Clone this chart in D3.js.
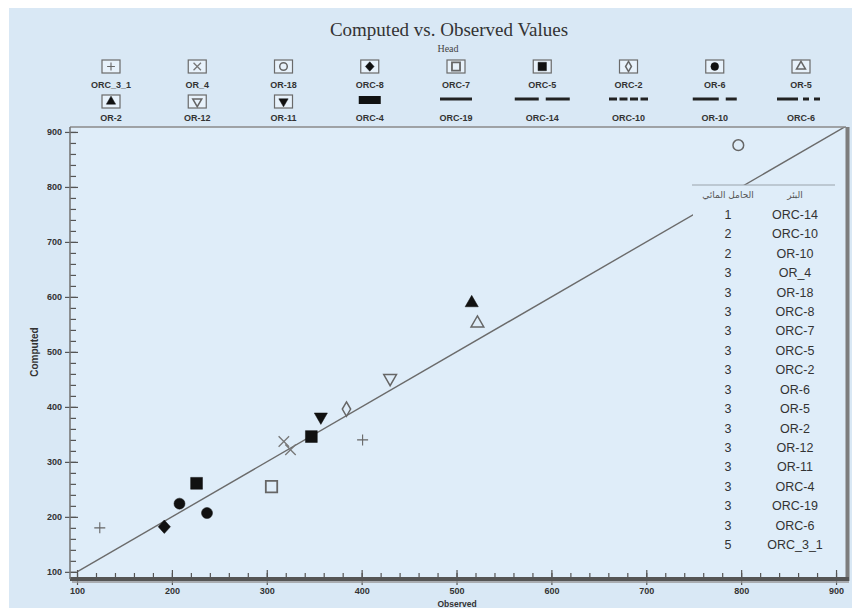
<!DOCTYPE html>
<html><head><meta charset="utf-8">
<script src="https://cdn.jsdelivr.net/npm/d3@7"></script>
<style>
html,body{margin:0;padding:0;background:#fff;}
svg{display:block;}
</style></head>
<body>
<svg id="chart" width="861" height="608"></svg>
<script>
// ---------- DATA ----------
const pointWells    = ["ORC_3_1","ORC_3_1","OR_4","OR_4","OR-18","ORC-8","ORC-7","ORC-5","ORC-5","ORC-2","OR-6","OR-6","OR-5","OR-2","OR-12","OR-11"];
const observedVals  = [124, 401, 318, 325, 797, 192, 305, 226, 347, 384, 208, 237, 522, 516, 430, 357];
const computedVals  = [180, 340, 337, 322, 876, 182, 255, 261, 346, 396, 224, 207, 552, 589, 452, 382];

const legendRow1 = ["ORC_3_1","OR_4","OR-18","ORC-8","ORC-7","ORC-5","ORC-2","OR-6","OR-5"];
const legendRow2 = ["OR-2","OR-12","OR-11","ORC-4","ORC-19","ORC-14","ORC-10","OR-10","ORC-6"];

const tableWells    = ["ORC-14","ORC-10","OR-10","OR_4","OR-18","ORC-8","ORC-7","ORC-5","ORC-2","OR-6","OR-5","OR-2","OR-12","OR-11","ORC-4","ORC-19","ORC-6","ORC_3_1"];
const tableAquifer  = [1,2,2,3,3,3,3,3,3,3,3,3,3,3,3,3,3,5];
const tableHeaders  = ["الحامل المائي","البئر"];

const majorTicks = [100,200,300,400,500,600,700,800,900];
const titleText = "Computed vs. Observed Values";
const subtitleText = "Head";
const xLabel = "Observed", yLabel = "Computed";

// ---------- STYLE MAPS ----------
const thinPlus = {draw(c, s){const r=Math.sqrt(s)/2; c.moveTo(-r,0);c.lineTo(r,0);c.moveTo(0,-r);c.lineTo(0,r);}};
const thinX = {draw(c, s){const r=Math.sqrt(s)/2; c.moveTo(-r,-r);c.lineTo(r,r);c.moveTo(-r,r);c.lineTo(r,-r);}};
const downTri = {draw(c, s){const a=Math.sqrt(s*4/Math.sqrt(3)), h=a*Math.sqrt(3)/2, w=a/2; c.moveTo(-w,-h/3);c.lineTo(w,-h/3);c.lineTo(0,2*h/3);c.closePath();}};
const wideDiamond = {draw(c, s){const r=Math.sqrt(s/2); c.moveTo(0,-r*1.1);c.lineTo(r,0);c.lineTo(0,r*1.1);c.lineTo(-r,0);c.closePath();}};

const symStyle = {
  "ORC_3_1": {type: thinPlus, size: 121, fill: "none", stroke: "#666", sw: 1.1},
  "OR_4":    {type: thinX, size: 110, fill: "none", stroke: "#777", sw: 1.3},
  "OR-18":   {type: d3.symbolCircle, size: 90, fill: "none", stroke: "#666", sw: 1.5},
  "ORC-8":   {type: wideDiamond, size: 75, fill: "#111", stroke: "#111", sw: 0.5},
  "ORC-7":   {type: d3.symbolSquare, size: 130, fill: "none", stroke: "#666", sw: 1.8},
  "ORC-5":   {type: d3.symbolSquare, size: 140, fill: "#111", stroke: "#111", sw: 0.5},
  "ORC-2":   {type: d3.symbolDiamond, size: 60, fill: "none", stroke: "#666", sw: 1.5},
  "OR-6":    {type: d3.symbolCircle, size: 95, fill: "#111", stroke: "#111", sw: 0.5},
  "OR-5":    {type: d3.symbolTriangle, size: 70, fill: "none", stroke: "#666", sw: 1.5},
  "OR-2":    {type: d3.symbolTriangle, size: 75, fill: "#111", stroke: "#111", sw: 0.5},
  "OR-12":   {type: downTri, size: 70, fill: "none", stroke: "#666", sw: 1.5},
  "OR-11":   {type: downTri, size: 75, fill: "#111", stroke: "#111", sw: 0.5}
};
const lineStyle = {
  "ORC-19": {w: 32, dash: null},
  "ORC-14": {w: 55, dash: "24,7"},
  "ORC-10": {w: 39, dash: "8,2.5"},
  "OR-10":  {w: 44, dash: "26,7,11"},
  "ORC-6":  {w: 48, dash: "21,5,6,5,6,5"}
};

// ---------- LAYOUT ----------
const svg = d3.select("#chart");
const P = {left: 70, right: 846, top: 127, bottom: 579};
const x = d3.scaleLinear().domain([92.6, 910.5]).range([P.left, P.right]);
const y = d3.scaleLinear().domain([87, 909]).range([P.bottom, P.top]);

// backgrounds
svg.append("rect").attr("x",9).attr("y",8).attr("width",843).attr("height",600).attr("fill","#d9e8f5");
svg.append("rect").attr("x",P.left).attr("y",P.top).attr("width",P.right-P.left).attr("height",P.bottom-P.top).attr("fill","#dfedf9");

// title
svg.append("text").attr("x",449).attr("y",36).attr("text-anchor","middle")
  .attr("font-family","'Liberation Serif','Times New Roman',serif").attr("font-size",19).attr("fill","#333").text(titleText);
svg.append("text").attr("x",448).attr("y",52).attr("text-anchor","middle")
  .attr("font-family","'Liberation Serif','Times New Roman',serif").attr("font-size",10).attr("fill","#444").text(subtitleText);

// legend
const legX = d3.scalePoint().domain(d3.range(9)).range([111, 801]);
function legendItem(name, i, row){
  const cx = legX(i);
  const boxY = row === 0 ? 60 : 95;
  const labY = row === 0 ? 88 : 121;
  const g = svg.append("g");
  if (symStyle[name]) {
    g.append("rect").attr("x",cx-9).attr("y",boxY).attr("width",18).attr("height",13)
      .attr("fill","#e8f2fb").attr("stroke","#6a6a6a").attr("stroke-width",1.2);
    const s = symStyle[name];
    g.append("path").attr("transform",`translate(${cx},${boxY+6.5})`)
      .attr("d", d3.symbol().type(s.type).size(s.size*0.5)())
      .attr("fill", s.fill).attr("stroke", s.stroke).attr("stroke-width", s.sw);
  } else if (lineStyle[name]) {
    const ls = lineStyle[name];
    g.append("line").attr("x1",cx-ls.w/2).attr("x2",cx+ls.w/2).attr("y1",99).attr("y2",99)
      .attr("stroke","#222").attr("stroke-width",3).attr("stroke-dasharray",ls.dash);
  } else {
    g.append("rect").attr("x",cx-11).attr("y",96).attr("width",22).attr("height",8).attr("fill","#111");
  }
  g.append("text").attr("x",cx).attr("y",labY).attr("text-anchor","middle")
    .attr("font-family","'Liberation Sans',Arial,sans-serif").attr("font-weight","bold").attr("font-size",9)
    .attr("fill","#333").text(name);
}
legendRow1.forEach((n,i)=>legendItem(n,i,0));
legendRow2.forEach((n,i)=>legendItem(n,i,1));

// clip
svg.append("defs").append("clipPath").attr("id","pc").append("rect")
  .attr("x",P.left).attr("y",P.top).attr("width",P.right-P.left).attr("height",P.bottom-P.top);

// 1:1 line
svg.append("line").attr("clip-path","url(#pc)")
  .attr("x1",x(100)).attr("y1",y(100)).attr("x2",x(912)).attr("y2",y(912))
  .attr("stroke","#6b6b6b").attr("stroke-width",1.4);

// table background (masks line)
svg.append("rect").attr("x",693).attr("y",185).attr("width",146).attr("height",370).attr("fill","#dfedf9");
svg.append("line").attr("x1",692).attr("x2",835).attr("y1",185).attr("y2",185).attr("stroke","#9aa3ab").attr("stroke-width",1);
svg.append("text").attr("x",728).attr("y",198).attr("text-anchor","middle").attr("direction","rtl")
  .attr("font-family","'DejaVu Sans','Noto Sans',sans-serif").attr("font-size",9).attr("fill","#555").text(tableHeaders[0]);
svg.append("text").attr("x",795).attr("y",198).attr("text-anchor","middle").attr("direction","rtl")
  .attr("font-family","'DejaVu Sans','Noto Sans',sans-serif").attr("font-size",9).attr("fill","#555").text(tableHeaders[1]);
const rowY = d3.scaleLinear().domain([0, tableWells.length-1]).range([219, 549]);
const tg = svg.append("g").attr("font-family","'Liberation Sans',Arial,sans-serif").attr("font-size",12.5).attr("fill","#333");
tg.selectAll("text.aq").data(tableAquifer).join("text").attr("class","aq")
  .attr("x",728).attr("y",(d,i)=>rowY(i)).attr("text-anchor","middle").text(d=>d);
tg.selectAll("text.wl").data(tableWells).join("text").attr("class","wl")
  .attr("x",795).attr("y",(d,i)=>rowY(i)).attr("text-anchor","middle").text(d=>d);

// points
const pts = svg.append("g").attr("clip-path","url(#pc)");
pts.selectAll("path").data(pointWells).join("path")
  .attr("transform",(d,i)=>`translate(${x(observedVals[i])},${y(computedVals[i])})`)
  .attr("d", d => d3.symbol().type(symStyle[d].type).size(symStyle[d].size)())
  .attr("fill", d => symStyle[d].fill).attr("stroke", d => symStyle[d].stroke)
  .attr("stroke-width", d => symStyle[d].sw);

// frame
svg.append("line").attr("x1",P.left).attr("x2",P.right).attr("y1",P.top).attr("y2",P.top).attr("stroke","#8a8a8a").attr("stroke-width",1.3);
svg.append("line").attr("x1",P.right+1.5).attr("x2",P.right+1.5).attr("y1",P.top).attr("y2",P.bottom+2).attr("stroke","#7d7d7d").attr("stroke-width",4);

// axes
const minorTicks = d3.range(100, 901, 20);
const fontAx = "'Liberation Sans',Arial,sans-serif";
function styleAxis(g){ g.selectAll("line").attr("stroke","#555").attr("stroke-width",1.2); g.select(".domain").remove(); }

const xIn = svg.append("g").attr("transform",`translate(0,${P.bottom})`)
  .call(d3.axisBottom(x).tickValues(minorTicks).tickSize(-6).tickFormat(""));
styleAxis(xIn);
const xMaj = svg.append("g").attr("transform",`translate(0,${P.bottom})`)
  .call(d3.axisBottom(x).tickValues(majorTicks).tickSize(6).tickPadding(3).tickFormat(d3.format("d")));
styleAxis(xMaj);
xMaj.selectAll("line").attr("y1",-9);
xMaj.selectAll("text").attr("font-family",fontAx).attr("font-weight","bold").attr("font-size",9).attr("fill","#333");
svg.append("line").attr("x1",P.left).attr("x2",P.right+3).attr("y1",P.bottom).attr("y2",P.bottom).attr("stroke","#555").attr("stroke-width",4);
svg.append("line").attr("x1",P.left+2).attr("x2",P.right+3).attr("y1",P.bottom+3).attr("y2",P.bottom+3).attr("stroke","#999").attr("stroke-width",1.5);

const yIn = svg.append("g").attr("transform",`translate(${P.left},0)`)
  .call(d3.axisLeft(y).tickValues(minorTicks).tickSize(-6).tickFormat(""));
styleAxis(yIn);
const yMaj = svg.append("g").attr("transform",`translate(${P.left},0)`)
  .call(d3.axisLeft(y).tickValues(majorTicks).tickSize(5).tickPadding(3).tickFormat(d3.format("d")));
styleAxis(yMaj);
yMaj.selectAll("line").attr("x1",8);
yMaj.selectAll("text").attr("font-family",fontAx).attr("font-weight","bold").attr("font-size",9).attr("fill","#333");
svg.append("line").attr("x1",P.left).attr("x2",P.left).attr("y1",P.top).attr("y2",P.bottom).attr("stroke","#777").attr("stroke-width",1.6);

// axis labels
svg.append("text").attr("transform","translate(38,352) rotate(-90)").attr("text-anchor","middle")
  .attr("font-family",fontAx).attr("font-weight","bold").attr("font-size",10).attr("fill","#333").text(yLabel);
svg.append("text").attr("x",457).attr("y",607).attr("text-anchor","middle")
  .attr("font-family",fontAx).attr("font-weight","bold").attr("font-size",8.5).attr("fill","#333").text(xLabel);
</script>
</body></html>
